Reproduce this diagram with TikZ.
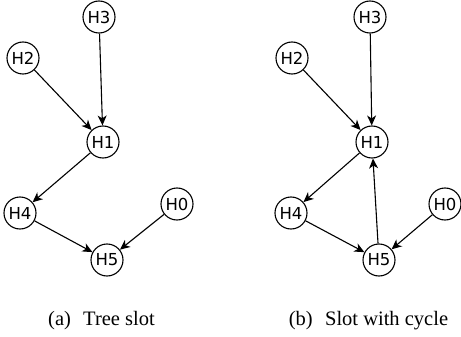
\documentclass[tikz,border=0pt]{standalone}
\usepackage{fontspec}
\setmainfont{Liberation Serif}
\newfontfamily\hostfont{DejaVu Sans}
\usetikzlibrary{arrows.meta}

\tikzset{
  host/.style={circle,draw,line width=1.1pt,minimum size=32pt,inner sep=0pt,
    font=\hostfont\fontsize{16.5}{18}\selectfont},
  link/.style={line width=1.1pt,-{Stealth[length=10pt,width=9pt,inset=3pt]}},
  caption/.style={anchor=base,font=\fontsize{20.5}{22}\selectfont}
}

\begin{document}
\begin{tikzpicture}[x=1pt,y=-1pt]
\useasboundingbox (0,0) rectangle (461,337);
% tree slot
\node[host] (a3) at (99,17) {H3};
\node[host] (a2) at (23,58) {H2};
\node[host] (a1) at (103,142) {H1};
\node[host] (a4) at (20,213) {H4};
\node[host] (a0) at (177,204) {H0};
\node[host] (a5) at (107,260) {H5};
\draw[link] (a3) -- (a1);
\draw[link] (a2) -- (a1);
\draw[link] (a1) -- (a4);
\draw[link] (a4) -- (a5);
\draw[link] (a0) -- (a5);
\node[caption] (capa) at (101.5,325) {(a)\hspace{0.6em}Tree slot};
% slot with cycle
\node[host] (b3) at (370,17) {H3};
\node[host] (b2) at (292,58) {H2};
\node[host] (b1) at (372,142) {H1};
\node[host] (b4) at (291,213) {H4};
\node[host] (b0) at (445,204) {H0};
\node[host] (b5) at (379,260) {H5};
\draw[link] (b3) -- (b1);
\draw[link] (b2) -- (b1);
\draw[link] (b1) -- (b4);
\draw[link] (b4) -- (b5);
\draw[link] (b0) -- (b5);
\draw[link] (b5) -- (b1);
\node[caption] (capb) at (368.5,325) {(b)\hspace{0.6em}Slot with cycle};
\end{tikzpicture}
\end{document}
